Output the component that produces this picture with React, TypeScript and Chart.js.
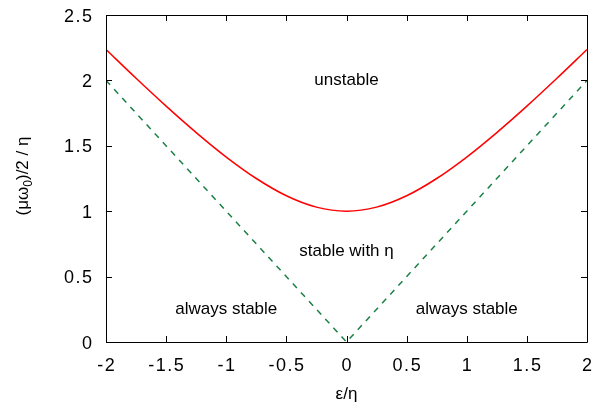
import React, { useEffect, useRef } from "react";
import { Chart, registerables } from "chart.js";

Chart.register(...registerables);

const xValues = [-2, -1.75, -1.5, -1.25, -1, -0.75, -0.5, -0.25, 0, 0.25, 0.5, 0.75, 1, 1.25, 1.5, 1.75, 2];
const unstableBoundary = [2.236, 2.016, 1.803, 1.601, 1.414, 1.25, 1.118, 1.031, 1.0, 1.031, 1.118, 1.25, 1.414, 1.601, 1.803, 2.016, 2.236];
const dashedX = [-2, 0, 2];
const dashedY = [2, 0, 2];
const xTicks = [-2, -1.5, -1, -0.5, 0, 0.5, 1, 1.5, 2];
const yTicks = [0, 0.5, 1, 1.5, 2, 2.5];
const annotationLabels = ["unstable", "stable with η", "always stable", "always stable"];
const annotationX = [0, 0, -1, 1];
const annotationY = [2.0, 0.69, 0.25, 0.25];
const xTitle = "ε/η";
const yTitleParts = ["(μω", "0", ")/2 / η"];

const FONT = "'Liberation Sans', Arial, Helvetica, sans-serif";

const framePlugin = {
  id: "frame",
  afterDatasetsDraw(chart: any) {
    const { ctx, chartArea: a, scales } = chart;
    const xs = scales.x;
    const ys = scales.y;
    ctx.save();
    ctx.strokeStyle = "#000";
    ctx.lineWidth = 1;
    ctx.beginPath();
    ctx.rect(Math.round(a.left) + 0.5, Math.round(a.top) + 0.5, Math.round(a.right - a.left), Math.round(a.bottom - a.top));
    ctx.stroke();
    const tl = 6;
    ctx.beginPath();
    for (const v of xTicks) {
      const px = Math.round(xs.getPixelForValue(v)) + 0.5;
      ctx.moveTo(px, a.bottom);
      ctx.lineTo(px, a.bottom - tl);
      ctx.moveTo(px, a.top);
      ctx.lineTo(px, a.top + tl);
    }
    for (const v of yTicks) {
      const py = Math.round(ys.getPixelForValue(v)) + 0.5;
      ctx.moveTo(a.left, py);
      ctx.lineTo(a.left + tl, py);
      ctx.moveTo(a.right, py);
      ctx.lineTo(a.right - tl, py);
    }
    ctx.stroke();

    // tick labels
    ctx.fillStyle = "#000";
    const sp = 1.5;
    ctx.font = `18px ${FONT}`;
    (ctx as any).letterSpacing = `${sp}px`;
    ctx.textBaseline = "alphabetic";
    ctx.textAlign = "center";
    for (const v of xTicks) {
      ctx.fillText(String(v), xs.getPixelForValue(v) + sp / 2, a.bottom + 29);
    }
    ctx.textAlign = "right";
    for (const v of yTicks) {
      ctx.fillText(String(v), a.left - 14 + sp, ys.getPixelForValue(v) + 6.5);
    }
    (ctx as any).letterSpacing = "0px";

    ctx.font = `17px ${FONT}`;
    ctx.textAlign = "center";
    ctx.textBaseline = "middle";
    annotationLabels.forEach((t, i) => {
      ctx.fillText(t, xs.getPixelForValue(annotationX[i]), ys.getPixelForValue(annotationY[i]));
    });

    // x title
    ctx.textBaseline = "alphabetic";
    ctx.fillText(xTitle, (a.left + a.right) / 2, 399);

    // y title with subscript
    ctx.translate(28, 176);
    ctx.rotate(-Math.PI / 2);
    ctx.textAlign = "left";
    const big = `17px ${FONT}`;
    const small = `12px ${FONT}`;
    ctx.font = big;
    const w0 = ctx.measureText(yTitleParts[0]).width;
    const w2 = ctx.measureText(yTitleParts[2]).width;
    ctx.font = small;
    const w1 = ctx.measureText(yTitleParts[1]).width;
    let x = -(w0 + w1 + w2) / 2;
    ctx.font = big;
    ctx.fillText(yTitleParts[0], x, 0);
    x += w0;
    ctx.font = small;
    ctx.fillText(yTitleParts[1], x, 4);
    x += w1;
    ctx.font = big;
    ctx.fillText(yTitleParts[2], x, 0);
    ctx.restore();
  },
};

const zeroPad = (s: any) => {
  s.paddingLeft = 0;
  s.paddingRight = 0;
  s.paddingTop = 0;
  s.paddingBottom = 0;
};

export default function App() {
  const ref = useRef<HTMLCanvasElement>(null);
  useEffect(() => {
    document.body.style.margin = "0";
    const c = ref.current!;
    const chart = new Chart(c, {
      type: "line",
      data: {
        datasets: [
          {
            data: xValues.map((x, i) => ({ x, y: unstableBoundary[i] })),
            borderColor: "#ff0000",
            borderWidth: 1.5,
            pointRadius: 0,
            cubicInterpolationMode: "monotone",
            fill: false,
          },
          {
            data: dashedX.map((x, i) => ({ x, y: dashedY[i] })),
            borderColor: "#1a8046",
            borderWidth: 1.5,
            borderDash: [6, 6],
            pointRadius: 0,
            tension: 0,
            fill: false,
          },
        ],
      },
      options: {
        animation: false,
        responsive: false,
        devicePixelRatio: 1,
        layout: { padding: { top: 15, right: 9, left: 0, bottom: 0 } },
        plugins: { legend: { display: false }, tooltip: { enabled: false } },
        scales: {
          x: {
            type: "linear",
            min: -2,
            max: 2,
            grid: { display: false, drawTicks: false },
            border: { display: false },
            ticks: { display: false },
            afterFit: (s: any) => {
              s.height = 68;
              zeroPad(s);
            },
          },
          y: {
            type: "linear",
            min: 0,
            max: 2.5,
            grid: { display: false, drawTicks: false },
            border: { display: false },
            ticks: { display: false },
            afterFit: (s: any) => {
              s.width = 106;
              zeroPad(s);
            },
          },
        },
      },
      plugins: [framePlugin],
    } as any);
    return () => chart.destroy();
  }, []);
  return (
    <div style={{ position: "fixed", left: 0, top: 0, width: 596, height: 410, background: "#fff" }}>
      <canvas ref={ref} width={596} height={410} style={{ width: 596, height: 410 }} />
    </div>
  );
}
